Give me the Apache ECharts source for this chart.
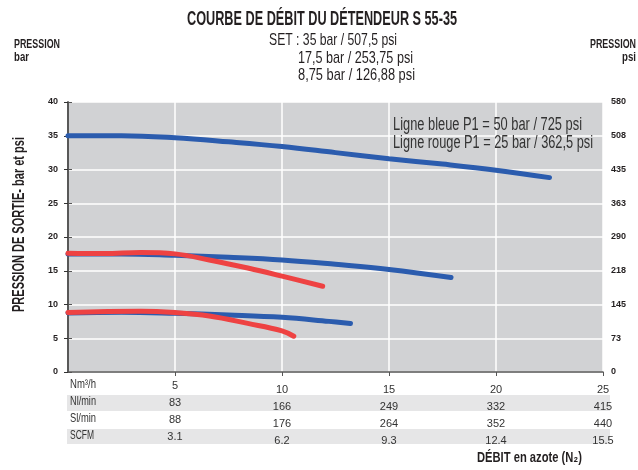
<!DOCTYPE html>
<html>
<head>
<meta charset="utf-8">
<script src="https://cdn.jsdelivr.net/npm/echarts@6/dist/echarts.min.js"></script>
<style>
  html, body { margin: 0; padding: 0; background: #fff; }
  #chart { width: 638px; height: 470px; }
</style>
</head>
<body>
<div id="chart"></div>
<script>
// courbes [débit Nm3/h, pression bar]
var blue35 = [[0, 35], [2.5, 35], [5, 34.7], [7.5, 34.1], [10, 33.4], [12.5, 32.5], [15, 31.6], [17.5, 30.8], [20, 29.9], [22.5, 28.8]];
var blue175 = [[0, 17.5], [2.5, 17.5], [5, 17.3], [7.5, 17.0], [10, 16.6], [12.5, 15.95], [15, 15.2], [17.9, 14.0]];
var red175 = [[0, 17.6], [1.7, 17.55], [3.4, 17.7], [5, 17.5], [6.6, 16.6], [8.4, 15.4], [10, 14.2], [11.9, 12.7]];
var blue875 = [[0, 8.75], [2.5, 8.85], [5, 8.7], [7.5, 8.45], [10, 8.1], [12.2, 7.5], [13.2, 7.2]];
var red875 = [[0, 8.8], [3.4, 9.0], [5, 8.8], [6.6, 8.3], [8.4, 7.2], [10, 6.1], [10.55, 5.3]];

// tableau sous l'axe
var rowNames = ['Nm³/h', 'Nl/min', 'Sl/min', 'SCFM'];
var nm3h = ['5', '10', '15', '20', '25'];
var nlmin = ['83', '166', '249', '332', '415'];
var slmin = ['88', '176', '264', '352', '440'];
var scfm = ['3.1', '6.2', '9.3', '12.4', '15.5'];

var FONT = '"Liberation Sans", Arial, sans-serif';
var INK = '#231f20';
var BLUE = '#2b5cae';
var RED = '#ee4242';

var chart = echarts.init(document.getElementById('chart'));

// mesure du texte pour imiter la police condensée
var measureCtx = document.createElement('canvas').getContext('2d');
function fitText(text, font, x, y, width, opts) {
	opts = opts || {};
	measureCtx.font = font;
	var w = measureCtx.measureText(text).width;
	return {
		type: 'text', x: x, y: y, rotation: opts.rotation || 0, scaleX: width / w, z: 10,
		style: {
			text: text, font: font, fill: opts.fill || INK,
			textAlign: opts.align || 'left', textVerticalAlign: 'middle'
		}
	};
}

function rowAxis(arr, idx) {
	return {
		type: 'value', min: 0, max: 25, interval: 5, position: 'bottom', offset: idx * 17,
		axisLine: { show: idx === 0, lineStyle: { color: '#555', width: 1.5 } },
		axisTick: { show: idx === 0, length: 4, lineStyle: { color: '#555' } },
		splitLine: { show: idx === 0, lineStyle: { color: '#fff', width: 1.5 } },
		axisLabel: {
			margin: 8, fontFamily: FONT, fontSize: 11, color: '#333', showMinLabel: false,
			formatter: function (v) {
				if (v === 0) return '';
				var s = arr[v / 5 - 1];
				return v === 5 ? '{up|' + s + '}' : '{d|' + s + '}';
			},
			rich: {
				up: { fontFamily: FONT, fontSize: 11, color: '#333', padding: [0, 0, 6, 0] },
				d: { fontFamily: FONT, fontSize: 11, color: '#333', padding: [4, 0, 0, 0] }
			}
		}
	};
}

function curve(data, color) {
	return {
		type: 'line', data: data, smooth: 0.4, showSymbol: false, xAxisIndex: 0, yAxisIndex: 0,
		lineStyle: { color: color, width: 5, cap: 'round' }
	};
}

var graphics = [
	{ type: 'rect', left: 67, top: 395, z: -1, shape: { width: 543, height: 16 }, style: { fill: '#e6e6e7' } },
	{ type: 'rect', left: 67, top: 429, z: -1, shape: { width: 543, height: 15 }, style: { fill: '#e6e6e7' } },
	fitText('COURBE DE DÉBIT DU DÉTENDEUR S 55-35', 'bold 20px ' + FONT, 187, 19, 270),
	fitText('SET : 35 bar / 507,5 psi', '17px ' + FONT, 269, 40, 128),
	fitText('17,5 bar / 253,75 psi', '17px ' + FONT, 298, 58, 115),
	fitText('8,75 bar / 126,88 psi', '17px ' + FONT, 298, 75, 117),
	fitText('PRESSION', 'bold 13px ' + FONT, 14, 44, 46),
	fitText('bar', 'bold 13px ' + FONT, 14, 57, 15),
	fitText('PRESSION', 'bold 13px ' + FONT, 636, 44, 46, { align: 'right' }),
	fitText('psi', 'bold 13px ' + FONT, 636, 57, 14, { align: 'right' }),
	fitText('Ligne bleue P1 = 50 bar / 725 psi', '18px ' + FONT, 393, 125, 189, { fill: '#333' }),
	fitText('Ligne rouge P1 = 25 bar / 362,5 psi', '18px ' + FONT, 393, 143, 200, { fill: '#333' }),
	fitText('PRESSION DE SORTIE- bar et psi', 'bold 17px ' + FONT, 19, 312, 175, { rotation: Math.PI / 2 }),
	fitText('DÉBIT en azote (N₂)', 'bold 15px ' + FONT, 477, 458, 105)
];
rowNames.forEach(function (name, i) {
	graphics.push(fitText(name, '12px ' + FONT, 70, 385 + i * 17, name === 'SCFM' ? 24 : 26, { fill: '#333' }));
});

chart.setOption({
	animation: false,
	grid: { left: 68, right: 35, top: 102, bottom: 98, show: true, backgroundColor: '#d1d2d4', borderWidth: 0 },
	xAxis: [rowAxis(nm3h, 0), rowAxis(nlmin, 1), rowAxis(slmin, 2), rowAxis(scfm, 3)],
	yAxis: [
		{
			type: 'value', min: 0, max: 40, interval: 5, position: 'left',
			axisLine: { show: true, lineStyle: { color: '#333', width: 1.5 } },
			axisTick: { show: true, length: 4, lineStyle: { color: '#333' } },
			splitLine: { lineStyle: { color: '#fff', width: 1.5 } },
			axisLabel: { margin: 10, fontFamily: FONT, fontWeight: 'bold', fontSize: 9, color: INK }
		},
		{
			type: 'value', min: 0, max: 580, interval: 72.5, position: 'right',
			axisLine: { show: true, lineStyle: { color: '#555', width: 1.5 } },
			axisTick: { show: true, length: 4, lineStyle: { color: '#555' } },
			splitLine: { show: false },
			axisLabel: {
				margin: 8, fontFamily: FONT, fontWeight: 'bold', fontSize: 9, color: INK,
				formatter: function (v) { return Math.round(v); }
			}
		}
	],
	graphic: graphics,
	series: [
		curve(blue35, BLUE),
		curve(blue175, BLUE),
		curve(blue875, BLUE),
		curve(red175, RED),
		curve(red875, RED)
	]
});
</script>
</body>
</html>
